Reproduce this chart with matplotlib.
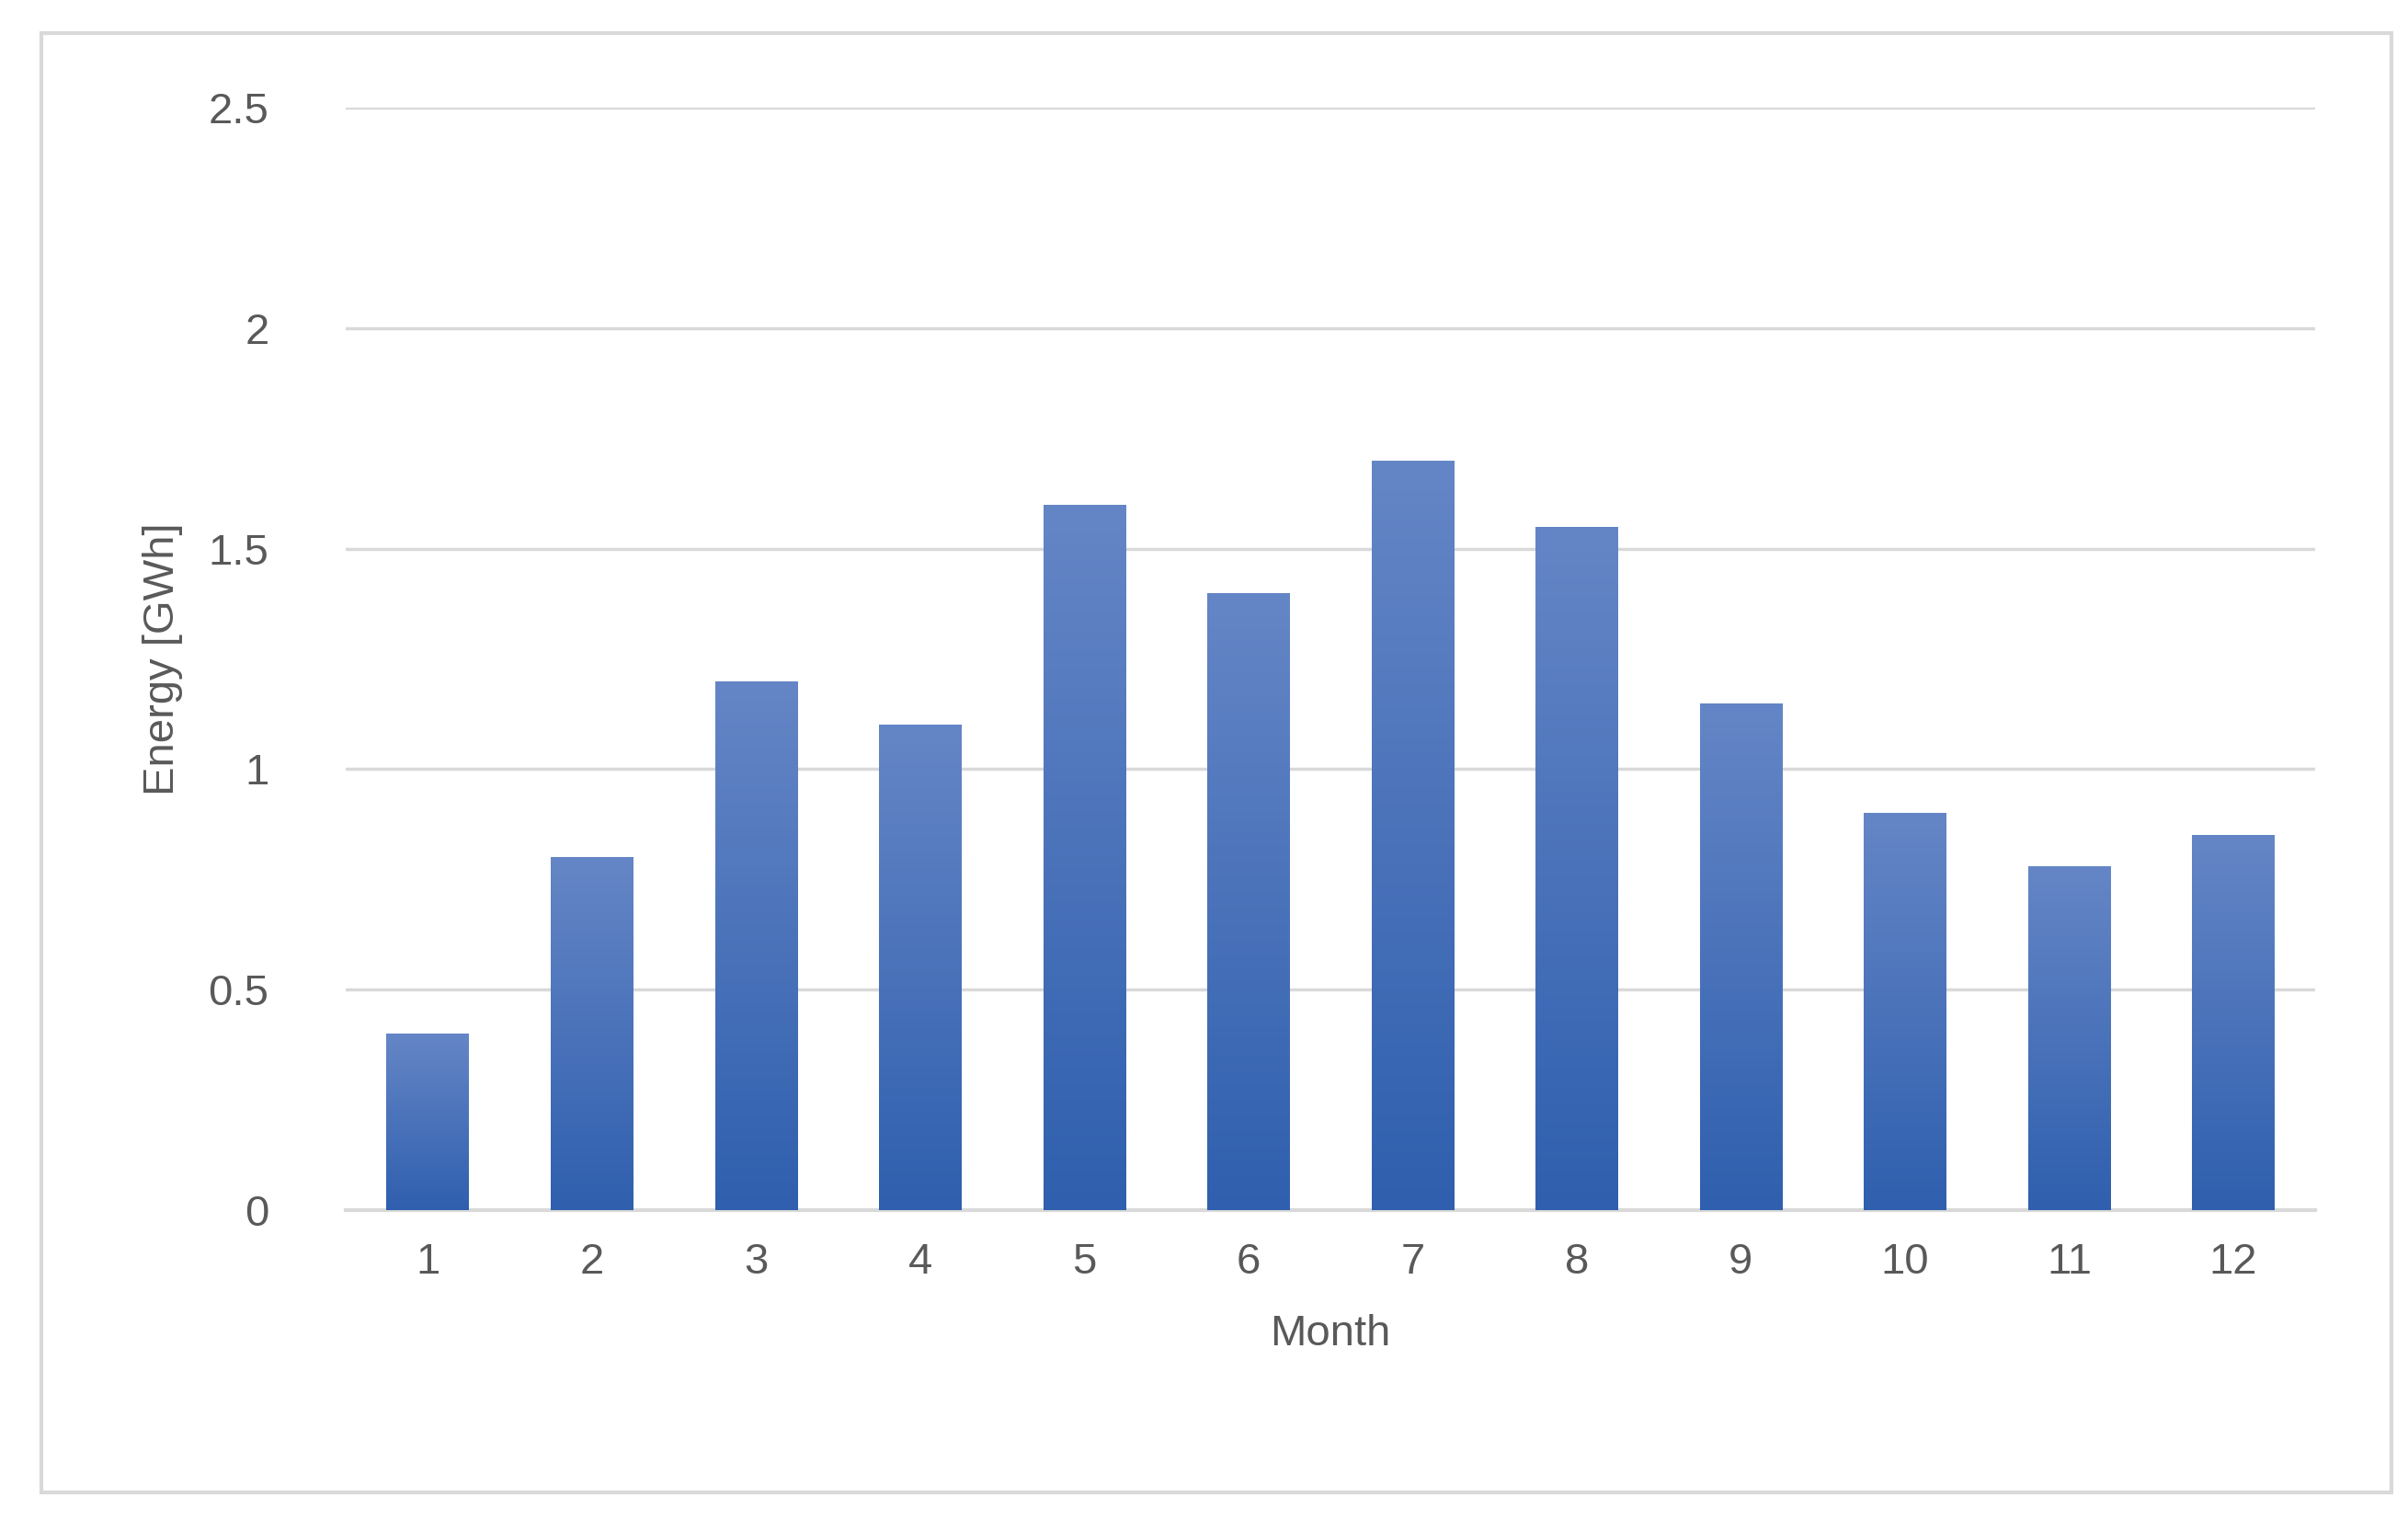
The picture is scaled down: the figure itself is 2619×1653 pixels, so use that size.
import numpy as np
import matplotlib
matplotlib.use("Agg")
from matplotlib import pyplot as plt
from matplotlib.patches import Rectangle

months = [1, 2, 3, 4, 5, 6, 7, 8, 9, 10, 11, 12]
energy = [0.4, 0.8, 1.2, 1.1, 1.6, 1.4, 1.7, 1.55, 1.15, 0.9, 0.78, 0.85]
yticks = [0, 0.5, 1, 1.5, 2, 2.5]
ytick_labels = ["0", "0.5", "1", "1.5", "2", "2.5"]

plt.rcParams['font.family'] = ['Liberation Sans', 'DejaVu Sans']
gray = '#595959'

fig = plt.figure(figsize=(26.19, 16.53), dpi=100)
# outer chart border
fig.patches.append(Rectangle((0.017, 0.018), 0.976, 0.96, transform=fig.transFigure,
                             fill=False, edgecolor='#d9d9d9', lw=3))
ax = fig.add_axes([0.1435, 0.204, 0.818, 0.725])

bars = ax.bar(months, energy, width=0.5, color='none', zorder=3)
grad = np.linspace(0, 1, 256).reshape(-1, 1)
cmap = matplotlib.colors.LinearSegmentedColormap.from_list('g', ['#2f5fae', '#6586c6'])
for b in bars:
    x0, w, h = b.get_x(), b.get_width(), b.get_height()
    im = ax.imshow(grad, extent=[x0, x0 + w, 0, h], origin='lower', cmap=cmap,
                   aspect='auto', zorder=3)
    im.set_clip_path(b)

ax.set_xlim(0.5, 12.5)
ax.set_ylim(0, 2.5)
ax.set_yticks(yticks)
ax.set_yticklabels(ytick_labels)
ax.set_xticks(months)
ax.yaxis.grid(True, color='#d9d9d9', lw=2.5, zorder=0)
ax.set_axisbelow(True)
for s in ['top', 'right', 'left']:
    ax.spines[s].set_visible(False)
ax.spines['bottom'].set_color('#d9d9d9')
ax.spines['bottom'].set_linewidth(3)
ax.tick_params(length=0, labelsize=34, colors=gray, pad=25)
ax.tick_params(axis='y', pad=60)
ax.set_xlabel('Month', fontsize=34, color=gray, labelpad=25)
ax.set_ylabel('Energy [GWh]', fontsize=34, color=gray, labelpad=20)

fig.savefig('out.png', dpi=100)
